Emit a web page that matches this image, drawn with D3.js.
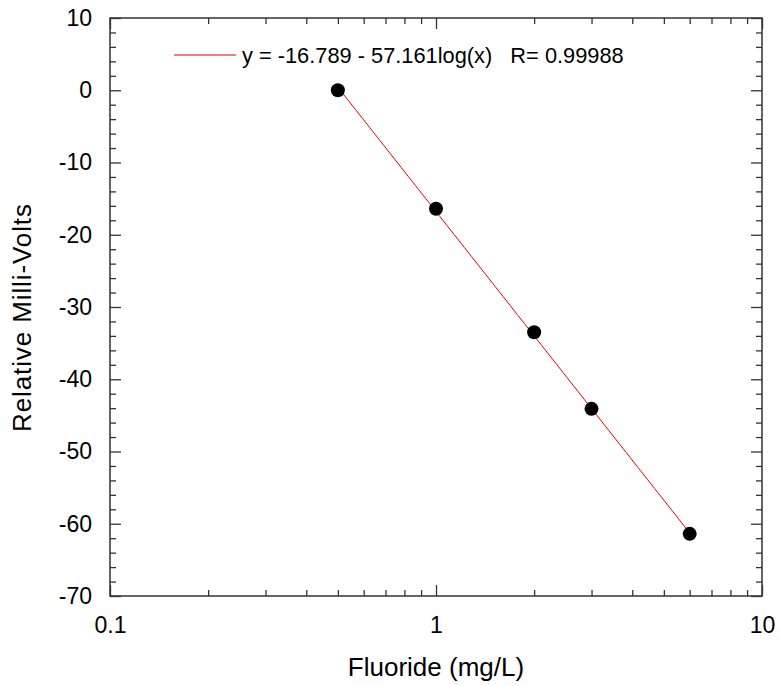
<!DOCTYPE html>
<html><head><meta charset="utf-8">
<script src="https://cdn.jsdelivr.net/npm/d3@7"></script>
<style>body{margin:0;background:#fff}svg{display:block}text{font-family:"Liberation Sans",Arial,sans-serif;fill:#000}</style>
</head><body>
<script>
const concentrations = [0.5, 1, 2, 3, 6];
const milliVolts = [0.0, -16.4, -33.5, -44.1, -61.4];
const fitIntercept = -16.789;
const fitSlope = -57.161;
const fitRange = [0.5, 6];
const xTickValues = [0.1, 1, 10];
const xTickLabels = ["0.1", "1", "10"];
const yTickValues = [-70, -60, -50, -40, -30, -20, -10, 0, 10];
const yTickLabels = ["-70", "-60", "-50", "-40", "-30", "-20", "-10", "0", "10"];
const legendText = "y = -16.789 - 57.161log(x)   R= 0.99988";

const W = 780, H = 686;
const m = {left: 110, right: 18, top: 18, bottom: 90};
const iw = W - m.left - m.right, ih = H - m.top - m.bottom;

const svg = d3.select("body").append("svg").attr("width", W).attr("height", H);
const g = svg.append("g").attr("transform", `translate(${m.left},${m.top})`);

const x = d3.scaleLog().domain([0.1, 10]).range([0, iw]);
const y = d3.scaleLinear().domain([-70, 10]).range([ih, 0]);

const minorX = [];
for (const dec of [0.1, 1]) for (let k = 2; k <= 9; k++) minorX.push(+(dec * k).toFixed(2));
const minorY = d3.range(-70, 10.01, 2).filter(v => v % 10 !== 0);

const axisColor = "#333";
function styleAxis(sel) {
  sel.select(".domain").remove();
  sel.selectAll("line").attr("stroke", axisColor).attr("stroke-width", 1.3);
  sel.selectAll("text").style("font-size", "23px").attr("fill", "#000");
}

// bottom
g.append("g").attr("transform", `translate(0,${ih})`)
  .call(d3.axisBottom(x).tickValues(xTickValues).tickFormat((d, i) => xTickLabels[i]).tickSizeInner(-11).tickPadding(21))
  .call(styleAxis);
g.append("g").attr("transform", `translate(0,${ih})`)
  .call(d3.axisBottom(x).tickValues(minorX).tickFormat("").tickSizeInner(-6))
  .call(styleAxis);
// top
g.append("g").call(d3.axisTop(x).tickValues(xTickValues).tickFormat("").tickSizeInner(-11)).call(styleAxis);
g.append("g").call(d3.axisTop(x).tickValues(minorX).tickFormat("").tickSizeInner(-6)).call(styleAxis);
// left
g.append("g")
  .call(d3.axisLeft(y).tickValues(yTickValues).tickFormat((d, i) => yTickLabels[i]).tickSizeInner(-11).tickPadding(18))
  .call(styleAxis);
g.append("g").call(d3.axisLeft(y).tickValues(minorY).tickFormat("").tickSizeInner(-6)).call(styleAxis);
// right
g.append("g").attr("transform", `translate(${iw},0)`)
  .call(d3.axisRight(y).tickValues(yTickValues).tickFormat("").tickSizeInner(-11)).call(styleAxis);
g.append("g").attr("transform", `translate(${iw},0)`)
  .call(d3.axisRight(y).tickValues(minorY).tickFormat("").tickSizeInner(-6)).call(styleAxis);

// frame
g.append("rect").attr("width", iw).attr("height", ih).attr("fill", "none")
  .attr("stroke", axisColor).attr("stroke-width", 1.5);

// fit line
const fitXs = d3.range(0, 101).map(i => fitRange[0] * Math.pow(fitRange[1] / fitRange[0], i / 100));
const line = d3.line().x(d => x(d)).y(d => y(fitIntercept + fitSlope * Math.log10(d)));
g.append("path").datum(fitXs).attr("d", line).attr("fill", "none")
  .attr("stroke", "#e00000").attr("stroke-width", 1);

// points
g.selectAll("circle.pt").data(concentrations).join("circle").attr("class", "pt")
  .attr("cx", d => x(d)).attr("cy", (d, i) => y(milliVolts[i])).attr("r", 7).attr("fill", "#000");

// legend
g.append("line").attr("x1", 64).attr("x2", 126).attr("y1", 37).attr("y2", 37)
  .attr("stroke", "#e00000").attr("stroke-width", 1);
g.append("text").attr("x", 132).attr("y", 45).style("font-size", "21.8px")
  .attr("xml:space", "preserve").text(legendText);

// axis titles
svg.append("text").attr("x", m.left + iw / 2).attr("y", 676).attr("text-anchor", "middle")
  .style("font-size", "26px").text("Fluoride (mg/L)");
svg.append("text").attr("transform", `translate(31,318) rotate(-90)`).attr("text-anchor", "middle")
  .style("font-size", "26px").attr("textLength", 228).attr("lengthAdjust", "spacing")
  .text("Relative Milli-Volts");
</script>
</body></html>
